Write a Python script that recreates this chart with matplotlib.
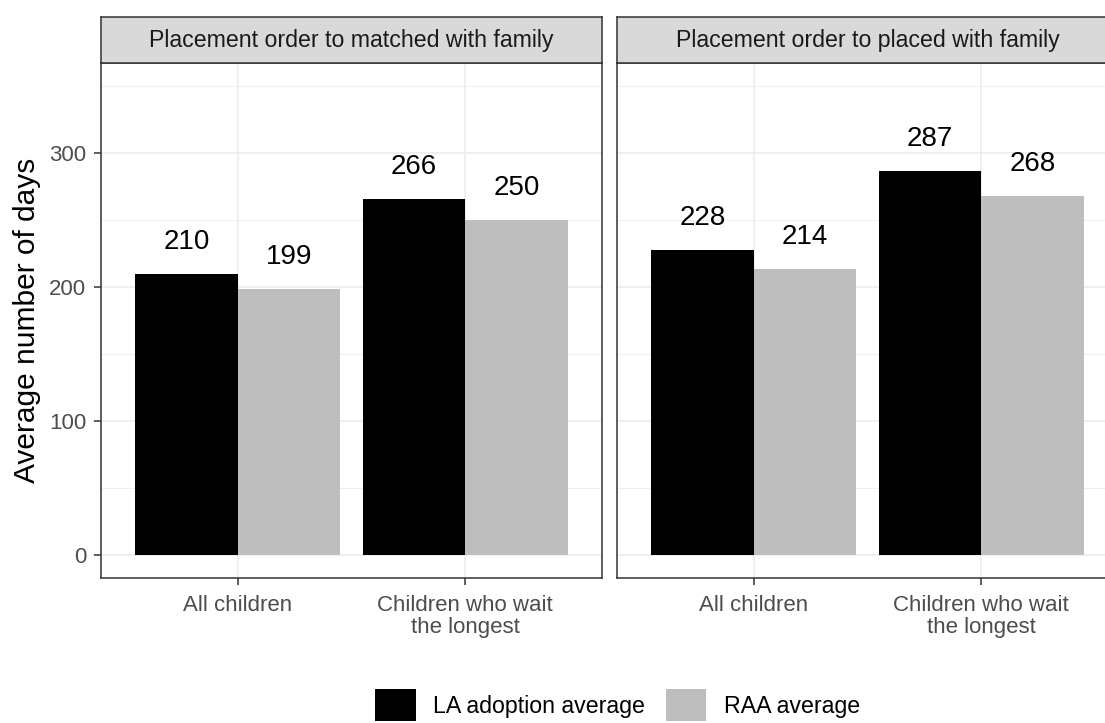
import numpy as np
import matplotlib.pyplot as plt
from matplotlib.patches import Patch

plt.rcParams['font.family'] = ['Liberation Sans', 'DejaVu Sans']

# Daten
kategorien = ["All children", "Children who wait\nthe longest"]
panel_titel = ["Placement order to matched with family", "Placement order to placed with family"]
la_werte = [[210, 266], [228, 287]]   # LA adoption average
raa_werte = [[199, 250], [214, 268]]  # RAA average
serien = ["LA adoption average", "RAA average"]
farben = ["#000000", "#BEBEBE"]

W, H = 1105, 723
fig = plt.figure(figsize=(W / 100, H / 100), dpi=100)

rahmen = "#333333"
gitter = "#EBEBEB"
breite = 0.45
x = np.arange(1, len(kategorien) + 1)

# Panelpositionen in Pixeln (links, oben Streifen, unten Plot)
panel_links = [101, 617]
panel_breite = 501
streifen_oben, plot_oben, plot_unten = 17, 63, 578

for i in range(2):
    l = panel_links[i] / W
    w = panel_breite / W
    ax = fig.add_axes([l, 1 - plot_unten / H, w, (plot_unten - plot_oben) / H])
    st = fig.add_axes([l, 1 - plot_oben / H, w, (plot_oben - streifen_oben) / H])

    # Balken
    b1 = ax.bar(x - breite / 2, la_werte[i], width=breite, color=farben[0], zorder=3)
    b2 = ax.bar(x + breite / 2, raa_werte[i], width=breite, color=farben[1], zorder=3)
    for balken, werte in ((b1, la_werte[i]), (b2, raa_werte[i])):
        for r, v in zip(balken, werte):
            ax.text(r.get_x() + r.get_width() / 2, v + 24, str(v), ha="center", va="center",
                    fontsize=20, color="black", zorder=4)

    ax.set_xlim(0.4, 2.6)
    ax.set_ylim(-16.8, 367.5)
    ax.set_xticks(x)
    ax.set_xticklabels(kategorien, linespacing=1.1)
    ax.set_yticks([0, 100, 200, 300])
    ax.set_yticks([50, 150, 250, 350], minor=True)
    ax.grid(True, which="major", color=gitter, linewidth=1.1, zorder=0)
    ax.grid(True, which="minor", axis="y", color=gitter, linewidth=0.6, zorder=0)
    ax.set_axisbelow(True)
    ax.tick_params(axis="both", which="major", colors=rahmen, length=5, width=1.1,
                   labelsize=16, labelcolor="#4D4D4D")
    ax.tick_params(axis="x", which="major", pad=7)
    ax.tick_params(axis="y", which="major", pad=5.5)
    ax.tick_params(axis="y", which="minor", length=0)
    for s in ax.spines.values():
        s.set_color(rahmen)
        s.set_linewidth(1.1)
    if i == 0:
        ax.set_ylabel("Average number of days", fontsize=21.5, labelpad=6)
    else:
        ax.tick_params(axis="y", which="major", labelleft=False, length=0)

    # Facettenstreifen
    st.set_facecolor("#D9D9D9")
    st.set_xticks([])
    st.set_yticks([])
    for s in st.spines.values():
        s.set_color(rahmen)
        s.set_linewidth(1.1)
    st.text(0.5, 0.5, panel_titel[i], ha="center", va="center", fontsize=16.7,
            color="#1A1A1A", transform=st.transAxes)

# Legende unten
handles = [Patch(facecolor=f, edgecolor="none", label=s) for f, s in zip(farben, serien)]
fig.legend(handles=handles, loc="center", bbox_to_anchor=(617.5 / W, 1 - 705 / H), ncol=2,
           frameon=False, fontsize=16.7, handlelength=1.75, handleheight=1.75,
           handletextpad=0.75, columnspacing=0.9, borderpad=0)

fig.savefig("out.png", dpi=100)
